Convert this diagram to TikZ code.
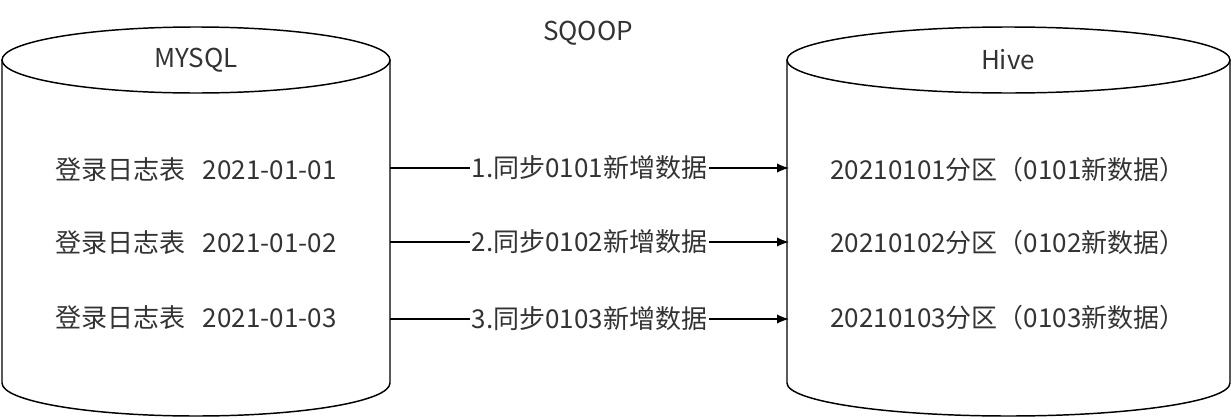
\documentclass[tikz,border=0pt]{standalone}
\usepackage{fontspec}
\setmainfont{Noto Sans CJK SC}
\definecolor{txt}{HTML}{333333}
\usetikzlibrary{arrows.meta}
\begin{document}
\begin{tikzpicture}[x=0.75pt,y=-0.75pt,
        every node/.style={text=txt,font=\fontsize{19.5}{23}\selectfont},
        lbl/.style={fill=white,inner sep=1pt},
        line width=1.1pt
    ]
    \useasboundingbox (0,0) rectangle (1232,418);

    % left cylinder
    \draw (196,60) ellipse (194 and 33);
    \draw (2,60) -- (2,383) arc[start angle=180,end angle=0,x radius=194,y radius=33] -- (390,60);
    % right cylinder
    \draw (1008.5,60) ellipse (221.5 and 33);
    \draw (787,60) -- (787,383) arc[start angle=180,end angle=0,x radius=221.5,y radius=33] -- (1230,60);

    \node (sqoop) at (588,33) {SQOOP};
    \node (mysql) at (196,60) {MYSQL};
    \node (hive) at (1008,60) {Hive};

    \node (l1) at (196,170) {登录日志表\ \ \ 2021-01-01};
    \node (l2) at (196,243) {登录日志表\ \ \ 2021-01-02};
    \node (l3) at (196,318) {登录日志表\ \ \ 2021-01-03};

    \node (r1) at (1008,170) {20210101分区（0101新数据）};
    \node (r2) at (1008,243) {20210102分区（0102新数据）};
    \node (r3) at (1008,318) {20210103分区（0103新数据）};

    \coordinate (a1) at (390,168); \coordinate (b1) at (789,168);
    \coordinate (a2) at (390,242); \coordinate (b2) at (789,242);
    \coordinate (a3) at (390,319); \coordinate (b3) at (789,319);

    \draw[-{Latex[length=9pt,width=7pt]}] (a1) -- node[lbl] {1.同步0101新增数据} (b1);
    \draw[-{Latex[length=9pt,width=7pt]}] (a2) -- node[lbl] {2.同步0102新增数据} (b2);
    \draw[-{Latex[length=9pt,width=7pt]}] (a3) -- node[lbl] {3.同步0103新增数据} (b3);
\end{tikzpicture}
\end{document}
